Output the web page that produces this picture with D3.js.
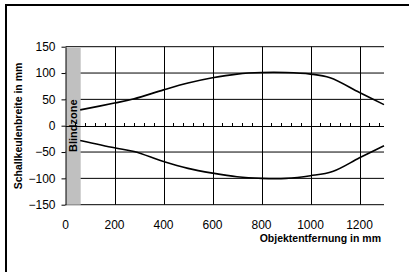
<!DOCTYPE html>
<html>
<head>
<meta charset="utf-8">
<script src="https://cdn.jsdelivr.net/npm/d3@7"></script>
<style>
  body { margin: 0; background: #fff; }
  svg { display: block; font-family: "Liberation Sans", Arial, sans-serif; }
</style>
</head>
<body>
<svg width="409" height="272"></svg>
<script>
// Werte
const xTicks = [0, 200, 400, 600, 800, 1000, 1200];
const yTicks = [-150, -100, -50, 0, 50, 100, 150];
const blindzone = [0, 60];

const upperX = [60, 200, 280, 400, 500, 600, 700, 800, 900, 1000, 1080, 1200, 1300];
const upperY = [30, 43, 51, 68, 81, 91, 98, 101, 101, 98, 91, 63, 40];
const lowerX = [60, 200, 280, 400, 500, 600, 700, 800, 900, 1000, 1090, 1200, 1300];
const lowerY = [-28, -42, -49, -68, -81, -90, -97, -100, -100, -95, -87, -61, -38];

const svg = d3.select("svg");

// Rahmen
svg.append("rect")
    .attr("x", 6).attr("y", 5)
    .attr("width", 420).attr("height", 290)
    .attr("fill", "none")
    .attr("stroke", "#000")
    .attr("stroke-width", 2);

const x = d3.scaleLinear().domain([0, 1300]).range([65.5, 384]);
const y = d3.scaleLinear().domain([-150, 150]).range([204.7, 46.7]);

// Gitterlinien
svg.append("g")
    .selectAll("line")
    .data(yTicks.filter(d => d !== 0))
    .enter().append("line")
    .attr("x1", x(0)).attr("x2", x(1300))
    .attr("y1", d => y(d)).attr("y2", d => y(d))
    .attr("stroke", "#000");

svg.append("g")
    .selectAll("line")
    .data(xTicks.filter(d => d !== 0))
    .enter().append("line")
    .attr("x1", d => Math.round(x(d)) + 0.5).attr("x2", d => Math.round(x(d)) + 0.5)
    .attr("y1", y(150)).attr("y2", y(-150))
    .attr("stroke", "#000");

// Blindzone
svg.append("rect")
    .attr("x", x(blindzone[0]) + 0.5)
    .attr("y", y(148))
    .attr("width", x(blindzone[1]) - x(blindzone[0]))
    .attr("height", y(-150) - y(148))
    .attr("fill", "#c0c0c0");

// y-Achse
svg.append("g")
    .attr("transform", `translate(${x(0)},0)`)
    .call(d3.axisLeft(y).tickValues(yTicks).tickSize(4).tickPadding(6).tickSizeOuter(0))
    .call(g => g.select(".domain").attr("stroke", "#000"))
    .call(g => g.selectAll("text").attr("font-size", "12px").attr("font-family", "Liberation Sans, Arial, sans-serif").attr("fill", "#000"));

// Nulllinie mit kleinen Strichen
const minor = d3.range(40, 1300, 40).filter(d => d % 200 !== 0);
svg.append("line")
    .attr("x1", x(0)).attr("x2", x(1300))
    .attr("y1", Math.round(y(0)) + 0.5).attr("y2", Math.round(y(0)) + 0.5)
    .attr("stroke", "#000");
svg.append("g")
    .selectAll("line")
    .data(minor)
    .enter().append("line")
    .attr("x1", d => Math.round(x(d)) + 0.5).attr("x2", d => Math.round(x(d)) + 0.5)
    .attr("y1", Math.round(y(0)) + 0.5).attr("y2", Math.round(y(0)) - 3)
    .attr("stroke", "#000");

// x-Beschriftung
svg.append("g")
    .selectAll("text")
    .data(xTicks)
    .enter().append("text")
    .attr("x", d => x(d))
    .attr("y", 228.5)
    .attr("text-anchor", "middle")
    .attr("font-size", "12px")
    .text(d => d);

// Kurven
const line = d3.line()
    .x(d => x(d[0]))
    .y(d => y(d[1]))
    .curve(d3.curveCatmullRom.alpha(0.5));

svg.append("path")
    .datum(upperX.map((d, i) => [d, upperY[i]]))
    .attr("d", line)
    .attr("fill", "none")
    .attr("stroke", "#000")
    .attr("stroke-width", 1.6);

svg.append("path")
    .datum(lowerX.map((d, i) => [d, lowerY[i]]))
    .attr("d", line)
    .attr("fill", "none")
    .attr("stroke", "#000")
    .attr("stroke-width", 1.6);

// Texte
svg.append("text")
    .attr("transform", `translate(76.5,${y(0)}) rotate(-90)`)
    .attr("text-anchor", "middle")
    .attr("font-size", "11px")
    .attr("font-weight", "bold")
    .text("Blindzone");

svg.append("text")
    .attr("transform", `translate(22,126) rotate(-90)`)
    .attr("text-anchor", "middle")
    .attr("font-size", "10.5px")
    .attr("font-weight", "bold")
    .text("Schallkeulenbreite in mm");

svg.append("text")
    .attr("x", 381)
    .attr("y", 242)
    .attr("text-anchor", "end")
    .attr("font-size", "10.5px")
    .attr("font-weight", "bold")
    .text("Objektentfernung in mm");
</script>
</body>
</html>
